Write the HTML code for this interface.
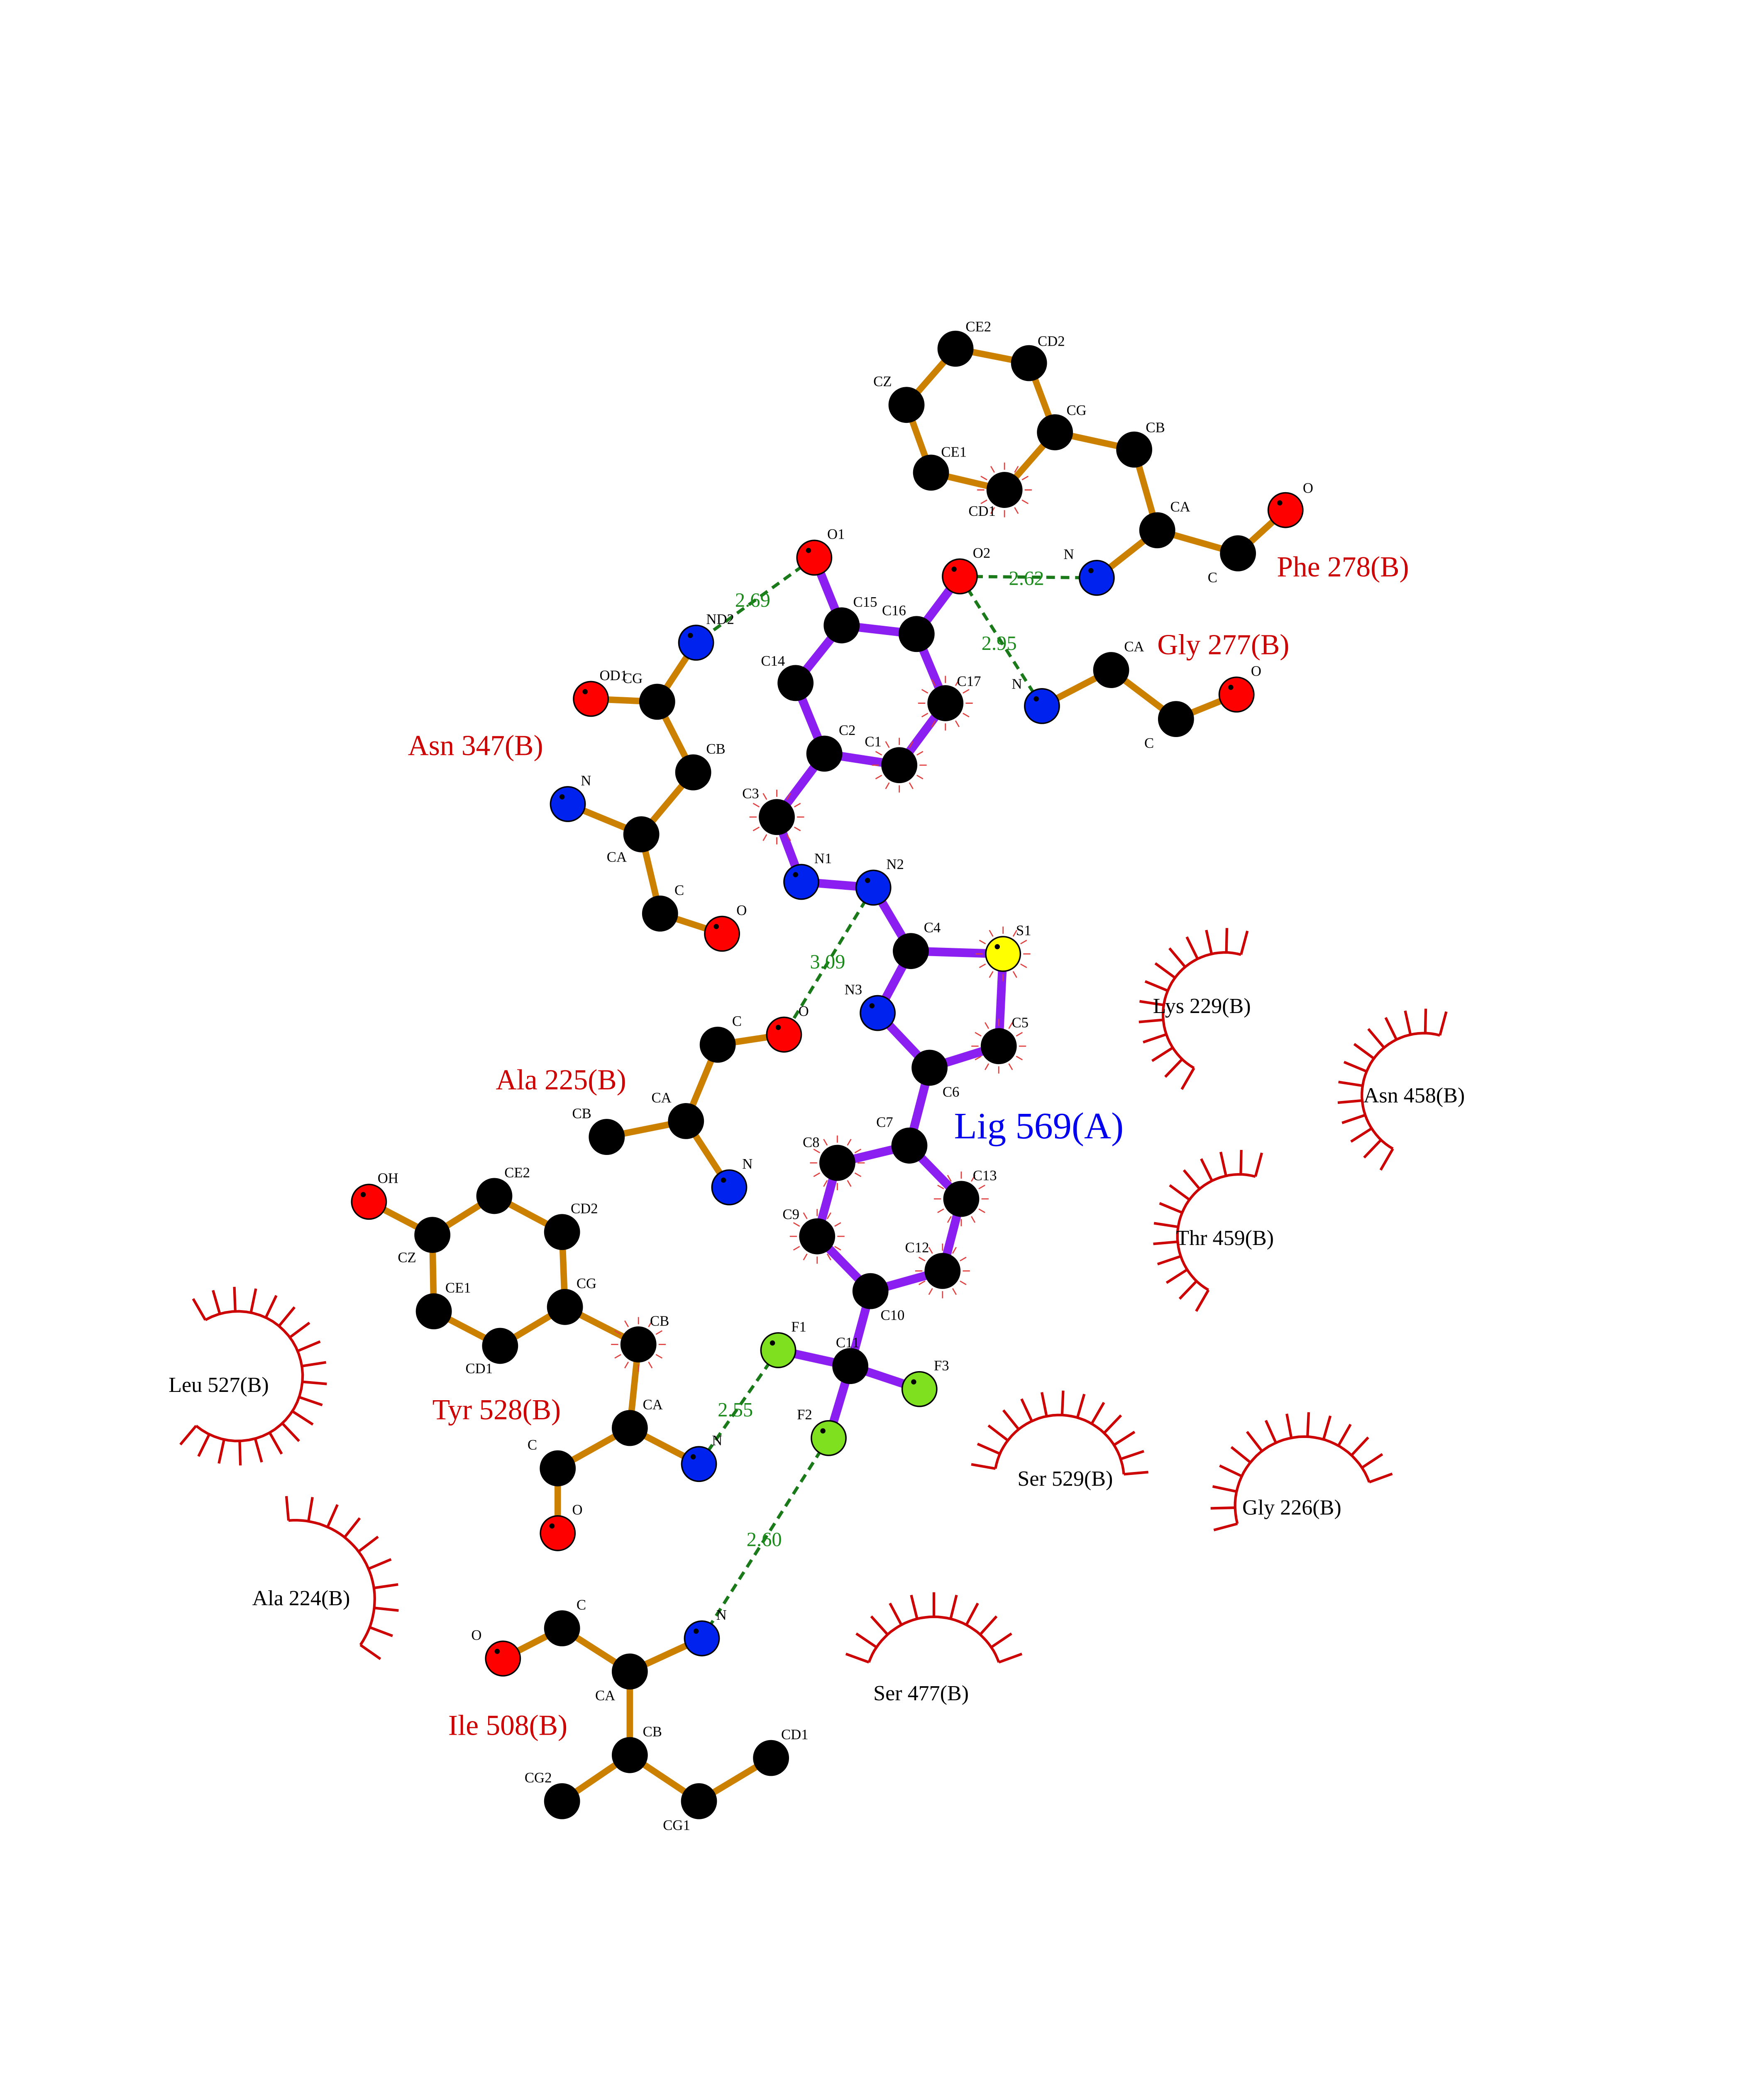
<!DOCTYPE html>
<html><head><meta charset="utf-8"><style>
html,body{margin:0;padding:0;background:#fff;width:4250px;height:5500px;overflow:hidden;}
svg{display:block;}
text{font-family:"Liberation Serif",serif;}
</style></head><body>
<svg id="s" xmlns="http://www.w3.org/2000/svg" width="4250" height="5500" viewBox="0 0 1224 1584">
<rect width="1224" height="1584" fill="#fff"/>
<g id="hb"></g><g id="bonds"></g><g id="arcs"></g><g id="atoms"></g><g id="labels"></g>
<text x="58" y="1470" font-size="12">.</text>
</svg>
<script>
var NS="http://www.w3.org/2000/svg";
function el(p,t,a,txt){var e=document.createElementNS(NS,t);for(var k in a)e.setAttribute(k,a[k]);if(txt!==undefined)e.textContent=txt;document.getElementById(p).appendChild(e);return e;}
var A={
pCE2:[663,242,'k','CE2',670,230],pCD2:[714,252,'k','CD2',720,240],pCG:[732,300,'k','CG',740,288],pCB:[787,312,'k','CB',795,300],
pCA:[803,368,'k','CA',812,355],pC:[859,384,'k','C',838,404],pO:[892,354,'r','O',904,342],pCZ:[629,281,'k','CZ',606,268],
pCE1:[646,328,'k','CE1',653,317],pCD1:[697,340,'k','CD1',672,358],pN:[761,401,'b','N',738,388],
gN:[723,490,'b','N',702,478],gCA:[771,465,'k','CA',780,452],gC:[816,499,'k','C',794,519],gO:[858,482,'r','O',868,469],
O1:[565,387,'r','O1',574,374],O2:[666,400,'r','O2',675,387],C15:[584,434,'k','C15',592,421],C16:[636,440,'k','C16',612,427],
C14:[552,474,'k','C14',528,462],C17:[656,488,'k','C17',664,476],C2:[572,523,'k','C2',582,510],C1:[624,531,'k','C1',600,518],
C3:[539,567,'k','C3',515,554],N1:[556,612,'b','N1',565,599],N2:[606,616,'b','N2',615,603],C4:[632,660,'k','C4',641,647],
S1:[696,662,'y','S1',705,649],N3:[609,703,'b','N3',586,690],C5:[693,726,'k','C5',702,713],C6:[645,741,'k','C6',654,761],
C7:[631,795,'k','C7',608,782],C8:[581,807,'k','C8',557,796],C13:[667,832,'k','C13',675,819],C9:[567,858,'k','C9',543,846],
C12:[654,882,'k','C12',628,869],C10:[604,896,'k','C10',611,916],C11:[590,948,'k','C11',580,935],F1:[540,937,'g','F1',549,924],
F3:[638,964,'g','F3',648,951],F2:[575,998,'g','F2',553,985],
aND2:[483,446,'b','ND2',490,433],aCG:[456,487,'k','CG',432,474],aOD1:[410,485,'r','OD1',416,472],aCB:[481,536,'k','CB',490,523],
aCA:[445,579,'k','CA',421,598],aN:[394,558,'b','N',403,545],aC:[458,634,'k','C',468,621],aO:[501,648,'r','O',511,635],
lC:[498,725,'k','C',508,712],lO:[544,718,'r','O',554,705],lCA:[476,778,'k','CA',452,765],lCB:[421,789,'k','CB',397,776],lN:[506,824,'b','N',515,811],
tOH:[256,834,'r','OH',262,821],tCZ:[300,857,'k','CZ',276,876],tCE2:[343,830,'k','CE2',350,817],tCD2:[390,855,'k','CD2',396,842],
tCG:[392,907,'k','CG',400,894],tCE1:[301,910,'k','CE1',309,897],tCD1:[347,934,'k','CD1',323,953],tCB:[443,933,'k','CB',451,920],
tCA:[437,991,'k','CA',446,978],tN:[485,1016,'b','N',494,1003],tC:[387,1019,'k','C',366,1006],tO:[387,1064,'r','O',397,1051],
iN:[487,1137,'b','N',497,1124],iCA:[437,1160,'k','CA',413,1180],iC:[390,1130,'k','C',400,1117],iO:[349,1151,'r','O',327,1138],
iCB:[437,1218,'k','CB',446,1205],iCG2:[390,1250,'k','CG2',364,1237],iCG1:[485,1250,'k','CG1',460,1270],iCD1:[535,1220,'k','CD1',542,1207]
};
var orange=[['pCE2','pCD2'],['pCD2','pCG'],['pCG','pCD1'],['pCD1','pCE1'],['pCE1','pCZ'],['pCZ','pCE2'],['pCG','pCB'],['pCB','pCA'],['pCA','pC'],['pC','pO'],['pCA','pN'],
['gN','gCA'],['gCA','gC'],['gC','gO'],
['aND2','aCG'],['aCG','aOD1'],['aCG','aCB'],['aCB','aCA'],['aCA','aN'],['aCA','aC'],['aC','aO'],
['lC','lO'],['lC','lCA'],['lCA','lCB'],['lCA','lN'],
['tOH','tCZ'],['tCZ','tCE2'],['tCE2','tCD2'],['tCD2','tCG'],['tCG','tCD1'],['tCD1','tCE1'],['tCE1','tCZ'],['tCG','tCB'],['tCB','tCA'],['tCA','tN'],['tCA','tC'],['tC','tO'],
['iN','iCA'],['iCA','iC'],['iC','iO'],['iCA','iCB'],['iCB','iCG2'],['iCB','iCG1'],['iCG1','iCD1']];
var purple=[['O1','C15'],['O2','C16'],['C15','C16'],['C15','C14'],['C16','C17'],['C14','C2'],['C17','C1'],['C2','C1'],['C2','C3'],['C3','N1'],['N1','N2'],['N2','C4'],['C4','S1'],['S1','C5'],['C5','C6'],['C6','N3'],['N3','C4'],['C6','C7'],['C7','C8'],['C7','C13'],['C8','C9'],['C13','C12'],['C9','C10'],['C12','C10'],['C10','C11'],['C11','F1'],['C11','F3'],['C11','F2']];
orange.forEach(function(b){var a=A[b[0]],c=A[b[1]];el('bonds','line',{x1:a[0],y1:a[1],x2:c[0],y2:c[1],stroke:'#cc8000','stroke-width':4.5});});
purple.forEach(function(b){var a=A[b[0]],c=A[b[1]];el('bonds','line',{x1:a[0],y1:a[1],x2:c[0],y2:c[1],stroke:'#8b1ef0','stroke-width':6});});
var hb=[['O1','aND2','2.69',510,421],['O2','pN','2.62',700,406],['O2','gN','2.95',681,451],['N2','lO','3.09',562,672],['F1','tN','2.55',498,983],['F2','iN','2.60',518,1073]];
hb.forEach(function(h){var a=A[h[0]],c=A[h[1]];el('hb','line',{x1:a[0],y1:a[1],x2:c[0],y2:c[1],stroke:'#1a7a1a','stroke-width':2.2,'stroke-dasharray':'6,4'});
el('labels','text',{x:h[3],y:h[4],'font-size':14,fill:'#1a8a1a'},h[2]);});
var col={k:'#000',r:'#f00',b:'#0022ee',y:'#ffff00',g:'#7ee01e'};
for(var k in A){var a=A[k];el('atoms','circle',{cx:a[0],cy:a[1],r:12,fill:col[a[2]],stroke:'#000','stroke-width':1});
if(a[2]!='k')el('atoms','circle',{cx:a[0]-4,cy:a[1]-5,r:1.8,fill:'#000'});
el('labels','text',{x:a[4],y:a[5],'font-size':10},a[3]);}
['C17','C1','C3','S1','C5','C13','C12','C9','C8','tCB','pCD1'].forEach(function(k){var a=A[k];for(var t=0;t<360;t+=30){var r=t*Math.PI/180;
el('arcs','line',{x1:a[0]+14*Math.cos(r),y1:a[1]+14*Math.sin(r),x2:a[0]+19*Math.cos(r),y2:a[1]+19*Math.sin(r),stroke:'#e04040','stroke-width':0.8});}});
var arcs=[[850,704,43,75,240,'Lys 229(B)',800,703],[988,760,43,75,240,'Asn 458(B)',946,765],[860,858,43,75,240,'Thr 459(B)',816,864],
[735,1027,45,5,170,'Ser 529(B)',706,1031],[905,1045,48,20,195,'Gly 226(B)',862,1051],[648,1170,48,20,160,'Ser 477(B)',606,1180],
[165,955,45,-130,120,'Leu 527(B)',117,966],[205,1110,55,-35,95,'Ala 224(B)',175,1114]];
arcs.forEach(function(a){var cx=a[0],cy=a[1],r=a[2],s=a[3],e=a[4],d='';var n=Math.round((e-s)/14);
for(var i=0;i<=40;i++){var t=(s+(e-s)*i/40)*Math.PI/180;d+=(i?'L':'M')+(cx+r*Math.cos(t)).toFixed(1)+','+(cy-r*Math.sin(t)).toFixed(1);}
el('arcs','path',{d:d,fill:'none',stroke:'#cc0000','stroke-width':1.8});
for(var i=0;i<=n;i++){var t=(s+(e-s)*i/n)*Math.PI/180;
el('arcs','line',{x1:cx+r*Math.cos(t),y1:cy-r*Math.sin(t),x2:cx+(r+17)*Math.cos(t),y2:cy-(r+17)*Math.sin(t),stroke:'#cc0000','stroke-width':1.8});}
el('labels','text',{x:a[6],y:a[7],'font-size':15,fill:'#000'},a[5]);});
var res=[['Phe 278(B)',886,400],['Gly 277(B)',803,454],['Asn 347(B)',283,524],['Ala 225(B)',344,756],['Tyr 528(B)',300,985],['Ile 508(B)',311,1204]];
res.forEach(function(r){el('labels','text',{x:r[1],y:r[2],'font-size':20,fill:'#cc0000'},r[0]);});
el('labels','text',{x:662,y:790,'font-size':26,fill:'#0000ee'},'Lig 569(A)');
</script>
</body></html>
